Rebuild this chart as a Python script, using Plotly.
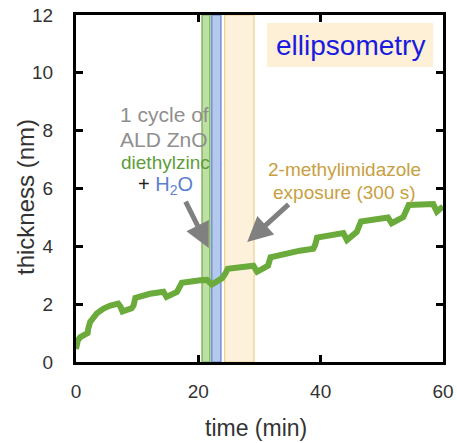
import plotly.graph_objects as go

# thickness trace (time in min, thickness in nm)
time_min = [0.0, 0.3, 0.7, 1.5, 1.9, 2.0, 2.3, 3.4, 4.5, 5.6, 6.9, 7.3, 7.6, 9.1, 9.4, 9.7,
            12.1, 14.3, 14.8, 16.5, 16.9, 17.3, 20.3, 21.4, 22.2, 23.9, 24.4, 24.8, 29.0,
            29.6, 31.4, 31.8, 36.6, 38.8, 39.1, 39.4, 43.7, 44.3, 45.9, 46.2, 46.6, 51.0,
            51.6, 53.5, 53.9, 54.4, 58.4, 59.0, 60.0]
thickness_nm = [0.45, 0.75, 0.86, 0.98, 1.0, 1.15, 1.38, 1.68, 1.85, 1.95, 2.02, 1.90, 1.75,
                1.86, 1.95, 2.22, 2.36, 2.43, 2.25, 2.42, 2.55, 2.74, 2.83, 2.84, 2.68, 2.90,
                3.05, 3.22, 3.33, 3.12, 3.33, 3.62, 3.85, 3.92, 4.05, 4.30, 4.46, 4.22, 4.50,
                4.70, 4.86, 5.00, 4.80, 5.01, 5.25, 5.43, 5.46, 5.20, 5.38]

# shaded process steps
band_start = [20.6, 22.2, 24.3]
band_end = [21.9, 23.7, 29.1]
band_fill = ["#bfe0a4", "#b5c8ee", "#fdf1db"]
band_edge = ["#6fa84a", "#5b80d2", "#f2cf90"]

x_ticks = [0, 20, 40, 60]
y_ticks = [0, 2, 4, 6, 8, 10, 12]

FONT = "Liberation Sans, Arial, Helvetica, sans-serif"

fig = go.Figure()
fig.add_trace(go.Scatter(x=time_min, y=thickness_nm, mode="lines",
                         line=dict(color="#6aab3c", width=6), showlegend=False))

shapes = []
for s, e, f, c in zip(band_start, band_end, band_fill, band_edge):
    shapes.append(dict(type="rect", xref="x", yref="y", x0=s, x1=e, y0=0, y1=12,
                       fillcolor=f, line=dict(color=c, width=1.2), layer="below"))
# ellipsometry label box
shapes.append(dict(type="rect", xref="x", yref="y", x0=31.2, x1=58.4, y0=10.2, y1=11.72,
                   fillcolor="#fdf0d6", line=dict(width=0), layer="below"))


def txt(x, y, text, size, color):
    return dict(x=x, y=y, xref="x", yref="y", text=text, showarrow=False,
                xanchor="center", yanchor="middle",
                font=dict(size=size, color=color, family=FONT))


annotations = [
    txt(44.8, 10.96, "ellipsometry", 28, "#1a1ae0"),
    txt(14.4, 8.55, "1 cycle of", 21, "#8f8f8f"),
    txt(14.4, 7.69, "ALD ZnO", 21, "#8f8f8f"),
    txt(14.6, 6.9, "diethylzinc", 19, "#5e9c3c"),
    txt(14.6, 6.12, "<span style='color:#222222'>+ </span>H<sub>2</sub>O", 20, "#5b7fcf"),
    txt(43.9, 6.64, "2-methylimidazole", 19, "#c7a042"),
    txt(43.9, 5.85, "exposure (300 s)", 19, "#c7a042"),
    # arrows
    dict(x=21.7, y=3.94, xref="x", yref="y", ax=17.8, ay=5.6, axref="x", ayref="y",
         text="", showarrow=True, arrowhead=2, arrowsize=1.0,
         arrowwidth=5, arrowcolor="#808080"),
    dict(x=28.0, y=4.15, xref="x", yref="y", ax=35.0, ay=5.5, axref="x", ayref="y",
         text="", showarrow=True, arrowhead=2, arrowsize=1.0,
         arrowwidth=5, arrowcolor="#808080"),
    # axis titles
    dict(x=(25 - 76) / 367, y=(362 - 197) / 347, xref="paper", yref="paper",
         xanchor="center", yanchor="middle",
         text="thickness (nm)", textangle=-90, showarrow=False,
         font=dict(size=24, color="#333333", family=FONT)),
    dict(x=(256 - 76) / 367, y=(362 - 428) / 347, xref="paper", yref="paper",
         xanchor="center", yanchor="middle",
         text="time (min)", showarrow=False,
         font=dict(size=23, color="#333333", family=FONT)),
]

axis_common = dict(showline=True, linecolor="black", linewidth=3, mirror="ticks",
                   ticks="inside", ticklen=7, tickwidth=3, tickcolor="black",
                   showgrid=False, zeroline=False, automargin=False,
                   ticklabeloverflow="allow",
                   tickfont=dict(size=19, color="#333333", family=FONT))

fig.update_layout(
    width=457, height=443,
    margin=dict(l=76, r=14, t=15, b=81),
    paper_bgcolor="white", plot_bgcolor="white",
    shapes=shapes, annotations=annotations,
    xaxis=dict(range=[0, 60], tickvals=x_ticks, ticklabelstandoff=10, **axis_common),
    yaxis=dict(range=[0, 12], tickvals=y_ticks, ticklabelstandoff=16, **axis_common),
)

# remove the page's default body margin so the figure fills the window exactly
fig.write_html("out.html", config={"displayModeBar": False},
               post_script="document.body.style.margin='0';document.body.style.overflow='hidden';")
